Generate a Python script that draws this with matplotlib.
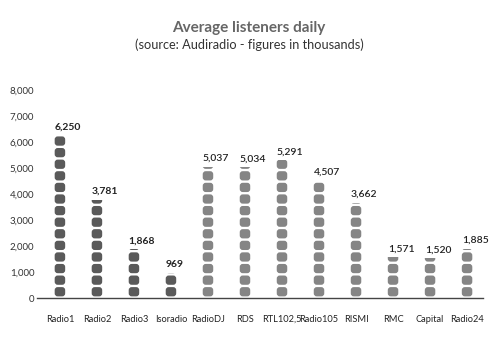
import matplotlib
matplotlib.use("Agg")
import matplotlib.pyplot as plt
from matplotlib.patches import FancyBboxPatch, Rectangle

stations = ["Radio1", "Radio2", "Radio3", "Isoradio", "RadioDJ", "RDS",
            "RTL102,5", "Radio105", "RISMI", "RMC", "Capital", "Radio24"]
listeners = [6250, 3781, 1868, 969, 5037, 5034, 5291, 4507, 3662, 1571, 1520, 1885]
public = [True, True, True, True, False, False, False, False, False, False, False, False]
y_ticks = [0, 1000, 2000, 3000, 4000, 5000, 6000, 7000, 8000]

unit = 446  # height of one square cell, in thousands

plt.rcParams["font.family"] = ["Lato", "DejaVu Sans"]

fig = plt.figure(figsize=(4.95, 3.53), dpi=100)
ax = fig.add_axes([0.0747, 0.1558, 0.901, 0.589])
ax.set_xlim(-0.62, 11.43)
ax.set_ylim(0, 8000)

# data units per pixel, used for square corners
px_x = (11.43 + 0.62) / (0.901 * 495)
px_y = 8000 / (0.589 * 353)

w = 10.5 * px_x
for i, (v, pub) in enumerate(zip(listeners, public)):
    col = "#5a5a5a" if pub else "#858585"
    clip = Rectangle((i - w, 0), 2 * w, v, transform=ax.transData)
    n = int(v // unit) + 1
    for k in range(n):
        y0 = (k + 0.14) * unit
        h = 0.8 * unit
        if y0 >= v:
            break
        sq = FancyBboxPatch((i - w / 2, y0), w, h,
                            boxstyle="round,pad=0,rounding_size=%f" % (3 * px_x),
                            mutation_aspect=px_y / px_x,
                            facecolor=col, edgecolor="none")
        ax.add_patch(sq)
        sq.set_clip_path(clip)
    ax.text(i - w / 2, v + 4 * px_y, f"{v:,}", ha="left", va="bottom",
            fontsize=7.5, color="#222222",
            fontweight="bold" if pub else "semibold")

ax.set_xticks(range(len(stations)))
ax.set_xticklabels(stations, fontsize=6.7, color="#222222")
ax.set_yticks(y_ticks)
ax.set_yticklabels([f"{t:,}" for t in y_ticks], fontsize=7, color="#333333")
ax.tick_params(axis="x", length=0, pad=12)
ax.tick_params(axis="y", length=0, pad=2)

for s in ["top", "right", "left"]:
    ax.spines[s].set_visible(False)
ax.spines["bottom"].set_color("#444444")
ax.spines["bottom"].set_linewidth(1)

fig.text(0.503, 0.92, "Average listeners daily", ha="center", va="center",
         fontsize=11, fontweight="bold", color="#666666")
fig.text(0.503, 0.872, "(source: Audiradio - figures in thousands)",
         ha="center", va="center", fontsize=9.2, color="#333333")

fig.savefig("out.png", dpi=100)
